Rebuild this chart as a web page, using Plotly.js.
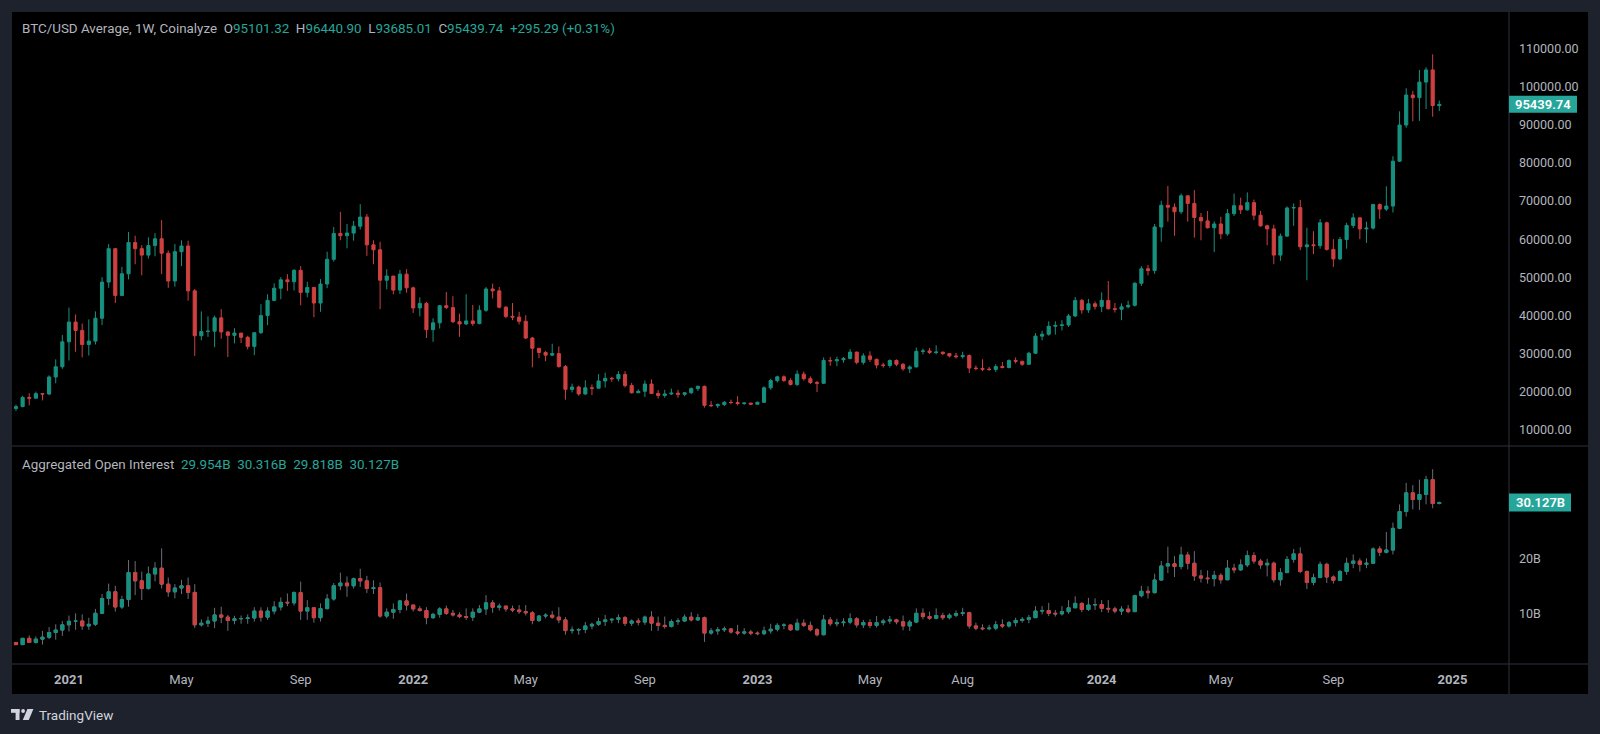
<!DOCTYPE html>
<html><head><meta charset="utf-8">
<script src="https://cdn.plot.ly/plotly-3.0.1.min.js"></script>
<style>html,body{margin:0;padding:0;background:#1e222d;overflow:hidden}#chart{width:1600px;height:734px}</style>
</head><body><div id="chart"></div>
<script>
// ---- data: weekly candles, first week starting Monday 2020-11-09 ----
const firstWeek = [2020, 10, 9];

const btcOpen = [
15480,15960,18380,18190,19360,19270,23760,26450,33000,38200,
36000,32300,33200,39200,48700,57500,45200,50900,59100,57500,
55800,58300,60100,56300,49000,56700,58200,46400,34600,35700,
35800,39300,35600,34700,35300,34200,31800,35400,39900,43900,
47100,49300,48800,51800,46000,47300,43200,48200,54700,61500,
60900,61600,63400,65800,58500,57200,49200,50300,46600,50800,
47200,41900,43100,36200,38000,42500,42000,38300,37700,38500,
37800,41300,46900,46400,42100,39700,39500,38400,34000,31300,
30200,29500,29900,26500,20500,21100,19300,20900,20800,22700,
23400,23300,24400,21500,19600,20000,21900,19400,18900,19300,
19500,19200,19600,20700,21300,16300,16200,16500,17100,17050,
16800,16900,16600,17100,20900,22800,23800,22800,21800,24500,
23300,22300,22100,28100,28000,28300,28600,30300,27600,29300,
28400,26900,26800,28100,27100,25900,26400,30500,30600,30200,
30300,29900,29300,29100,29400,26100,26000,25800,25750,26500,
26250,28100,27900,27100,30000,34500,35000,37100,37300,37450,
39800,43900,41400,43000,42300,43900,41700,41550,42200,42600,
48400,52200,51750,63200,68900,68400,67200,71400,69400,65700,
64800,63000,64000,61400,66700,68800,67700,69600,66300,63500,
62700,55800,60800,68200,68300,58000,58500,58300,64300,57300,
54800,59900,63600,65600,62700,62900,69100,67900,68700,80500,
90000,97900,97200,101300,104500,95101.32];
const btcHigh = [
16490,18800,19480,19900,19400,24200,28400,34800,42000,40200,
37800,38900,41000,50000,58700,57500,52700,61900,60900,58400,
60500,61600,65000,57000,58700,59700,59600,46900,41000,39700,
39900,41600,35800,36600,35300,34600,35500,42900,45500,48400,
50000,50800,52100,52900,48800,47400,49500,56700,63200,67200,
64000,64800,69200,66600,59700,59300,52100,50300,51900,52100,
47500,44700,43500,39200,42700,46100,45000,40400,45500,42700,
42600,47400,48300,47400,42400,43200,40900,40000,34300,31300,
30600,32500,31800,26900,22000,21500,22900,21800,24500,24900,
23800,25300,25300,22200,20500,22800,23100,20300,20400,20700,
20400,19800,21000,21500,21500,17400,16800,17400,17800,18700,
17100,16900,17300,21300,23300,24100,24200,23400,25500,25200,
23900,22700,28900,29000,29100,29000,31100,30400,30000,30500,
28600,27500,28400,28400,27400,26800,31500,31200,31400,32100,
30400,30000,30100,30400,29700,26800,28400,26400,27100,27700,
28400,28900,27900,30400,35300,35900,38400,38400,38700,40300,
44800,44300,44300,43600,46000,49000,43200,43100,43800,48700,
52900,53200,64000,70100,74000,69400,72000,71500,72900,66900,
67400,64700,65900,67900,72000,70900,72300,70400,67400,63800,
63800,61500,68600,69400,70300,63000,62100,65300,64600,60000,
60600,64300,66800,65700,64600,69300,69400,73900,81800,93600,
99700,99000,104500,105200,108600,96440.90];
const btcLow = [
14830,15800,16300,18100,17600,19000,22100,25900,28100,30400,
28900,29400,32300,37400,47200,43200,45000,49400,53400,50500,
54900,55500,50800,47200,47500,52900,43800,29300,33400,34300,
31600,33800,29000,32600,32700,31000,29500,35100,37400,43700,
44200,46400,46500,42600,44700,39500,40900,47100,54100,59700,
57600,59600,62500,55600,53400,41600,46800,45500,45600,45900,
40600,39700,34000,33000,36500,41600,37900,34300,37400,37200,
37600,40900,44400,41800,39200,38700,37600,33700,26300,28700,
27900,29300,26200,17800,19700,18800,19000,19000,20800,21000,
22500,22600,21000,19400,19600,18500,19300,18100,18300,19000,
18300,18700,19300,20100,15700,15900,15600,16100,16600,16300,
16400,16400,16600,17000,20400,22300,22500,21500,21400,22800,
21900,19800,21900,26700,26600,27500,28400,27100,27000,27700,
26000,26200,26200,26600,25400,24800,26300,29700,29800,29700,
29500,28900,28600,28600,24800,25500,25300,25400,25100,26000,
26000,27300,26700,26900,29800,33400,34600,34900,36000,36900,
39500,40400,40600,41500,40800,41500,40700,38700,41800,42300,
47700,50500,50900,59300,64600,60900,66600,64600,60400,59700,
62800,56600,60000,60900,66100,66600,67500,65000,63300,58400,
53400,54300,60600,63500,57100,49200,56100,57500,57000,52700,
54500,57500,62900,60000,59000,62500,65300,67400,67000,80300,
89300,91000,91100,94200,92200,93685.01];
const btcClose = [
15960,18380,18190,19360,19270,23760,26450,33000,38200,36000,
32300,33200,39200,48700,57500,45200,50900,59100,57500,55800,
58300,60100,56300,49000,56700,58200,46400,34600,35700,35800,
39300,35600,34700,35300,34200,31800,35400,39900,43900,47100,
49300,48800,51800,46000,47300,43200,48200,54700,61500,60900,
61600,63400,65800,58500,57200,49200,50300,46600,50800,47200,
41900,43100,36200,38000,42500,42000,38300,37700,38500,37800,
41300,46900,46400,42100,39700,39500,38400,34000,31300,30200,
29500,29900,26500,20500,21100,19300,20900,20800,22700,23400,
23300,24400,21500,19600,20000,21900,19400,18900,19300,19500,
19200,19600,20700,21300,16300,16200,16500,17100,17050,16800,
16900,16600,17100,20900,22800,23800,22800,21800,24500,23300,
22300,22100,28100,28000,28300,28600,30300,27600,29300,28400,
26900,26800,28100,27100,25900,26400,30500,30600,30200,30300,
29900,29300,29100,29400,26100,26000,25800,25750,26500,26250,
28100,27900,27100,30000,34500,35000,37100,37300,37450,39800,
43900,41400,43000,42300,43900,41700,41550,42200,42600,48400,
52200,51750,63200,68900,68400,67200,71400,69400,65700,64800,
63000,64000,61400,66700,68800,67700,69600,66300,63500,62700,
55800,60800,68200,68300,58000,58500,58300,64300,57300,54800,
59900,63600,65600,62700,62900,69100,67900,68700,80500,90000,
97900,97200,101300,104500,95144.45,95439.74];

// Aggregated open interest, billions USD
const oiOpen = [
4.70,4.30,5.45,4.70,5.30,5.65,6.50,6.95,7.90,8.55,
8.60,7.70,8.00,10.00,12.70,13.90,11.15,12.50,17.40,15.90,
14.50,17.15,18.20,15.30,13.90,14.60,15.00,13.80,7.90,8.20,
8.60,9.70,9.30,8.70,9.00,9.05,9.15,10.40,9.30,10.40,
11.15,12.00,11.90,13.75,10.40,11.00,9.20,10.85,12.60,15.00,
15.50,15.00,16.30,15.90,14.50,14.65,9.50,10.20,10.70,12.25,
11.50,10.80,10.50,9.20,9.80,10.80,10.00,9.70,9.40,9.30,
10.20,10.80,11.90,11.10,11.30,10.80,10.60,10.30,10.10,8.70,
9.50,9.65,9.30,8.80,6.85,6.95,7.05,7.70,8.00,8.50,
8.80,8.90,9.20,8.20,8.60,8.40,9.30,8.20,7.80,7.60,
8.50,8.60,9.30,8.80,9.20,6.40,6.80,7.00,7.15,6.60,
6.40,6.60,6.40,6.30,6.80,7.10,7.80,7.85,7.00,8.20,
7.80,7.00,6.10,8.80,8.10,8.30,8.40,9.00,7.90,8.30,
7.80,8.30,8.60,8.80,8.45,7.70,8.40,10.00,9.40,9.10,
9.60,9.20,9.65,9.95,10.10,7.70,7.30,7.20,7.30,7.90,
7.70,8.30,8.70,8.90,9.20,10.40,10.50,10.00,9.90,10.30,
11.00,11.80,10.70,11.50,11.60,10.90,10.80,10.40,10.75,10.30,
13.20,14.00,13.75,16.05,18.60,19.00,18.50,20.60,19.10,16.80,
16.40,16.30,16.90,16.10,18.20,17.90,18.80,20.50,19.50,18.80,
19.10,16.10,17.40,19.80,20.80,17.60,15.60,16.50,18.90,16.60,
16.00,17.60,19.10,19.50,18.90,19.10,21.70,21.10,21.50,25.45,
28.50,31.90,30.70,31.60,34.30,29.954];
const oiHigh = [
4.75,5.50,6.00,5.80,6.80,7.50,8.00,8.60,9.60,10.00,
9.80,9.20,10.80,13.50,15.40,15.00,13.20,19.70,19.50,17.60,
18.50,19.30,21.80,16.50,15.30,16.10,16.50,15.30,8.90,9.40,
11.00,11.20,9.70,9.55,9.60,9.80,11.10,11.10,11.10,12.20,
12.90,13.60,14.00,15.75,12.40,11.10,11.80,13.50,15.50,17.40,
16.70,16.50,18.10,16.80,16.00,15.60,10.90,11.80,12.40,13.60,
11.50,11.30,11.10,10.10,11.10,11.40,10.60,10.20,10.90,10.90,
11.50,13.30,12.40,11.80,11.40,11.40,11.50,11.50,10.40,9.70,
10.00,10.40,11.10,9.30,7.60,7.30,8.40,8.30,9.20,9.70,
9.10,9.80,9.50,8.90,9.10,9.60,10.40,9.40,9.40,8.90,
9.10,9.80,10.20,9.90,9.40,7.30,7.50,7.60,7.30,7.90,
7.30,7.00,6.70,7.60,8.10,8.20,8.20,8.00,9.00,8.90,
8.50,7.30,9.70,9.30,9.00,9.10,10.00,9.30,8.80,8.90,
9.50,9.00,9.50,9.00,9.60,8.80,10.90,10.90,10.30,10.90,
10.10,10.00,10.50,11.00,10.30,8.30,8.00,7.90,8.60,8.90,
8.60,9.20,9.30,9.70,11.30,11.30,11.90,10.60,11.30,12.40,
13.10,12.00,12.80,12.70,12.40,12.40,11.20,11.30,11.50,13.40,
15.00,14.90,17.20,19.50,22.10,20.40,22.10,21.20,21.30,17.90,
17.80,17.70,17.30,19.70,19.00,19.80,21.40,21.10,19.90,19.90,
19.40,18.20,20.40,21.70,22.00,17.80,17.20,19.40,19.20,16.90,
17.90,20.10,20.70,20.00,20.00,22.00,22.20,24.80,26.50,29.80,
33.70,33.30,34.30,35.00,36.20,30.316];
const oiLow = [
4.20,4.25,4.60,4.50,4.30,5.30,5.20,5.90,6.70,7.00,
7.00,7.00,7.70,9.90,11.50,10.30,10.80,11.20,13.30,12.40,
14.30,15.80,14.50,13.00,12.70,13.50,12.60,7.30,7.60,7.50,
7.30,8.20,6.80,8.00,8.10,8.10,8.50,8.50,8.80,9.80,
10.50,11.30,11.40,8.80,8.80,8.30,8.50,10.70,12.30,14.20,
13.00,14.50,14.80,13.70,13.50,9.20,9.10,9.00,10.00,10.50,
10.30,10.30,8.00,9.00,9.20,9.70,9.40,9.10,8.80,8.60,
10.00,9.70,10.10,10.50,10.30,10.20,9.90,9.60,8.00,8.40,
9.10,9.00,8.20,6.10,6.30,6.10,6.40,7.10,7.70,7.70,
8.20,8.20,7.70,7.70,7.80,7.90,6.80,6.80,7.20,7.40,
7.90,8.40,8.50,8.60,4.80,6.10,6.10,6.60,6.30,6.00,
6.10,6.00,6.00,6.00,6.30,6.70,7.10,6.80,6.90,7.50,
6.70,5.80,6.00,7.70,7.60,7.60,8.00,7.40,7.30,7.30,
7.40,7.80,8.10,8.00,6.90,6.80,8.20,8.90,8.80,8.90,
8.80,8.90,9.30,9.50,7.20,6.90,6.90,6.90,6.90,7.30,
7.40,7.60,8.30,8.20,9.20,9.80,9.50,9.40,9.60,9.90,
11.00,10.20,10.40,10.60,10.20,10.10,10.00,9.70,10.00,10.30,
12.90,12.70,13.60,15.90,17.30,16.60,18.00,18.00,15.90,15.60,
15.40,14.90,15.40,16.00,17.30,17.70,18.40,19.00,18.10,16.70,
15.60,15.00,17.30,19.20,17.30,14.40,15.10,16.40,15.50,15.40,
15.90,17.00,18.20,17.60,18.20,19.00,20.40,20.90,20.70,25.30,
27.60,28.90,28.80,29.80,29.10,29.818];
const oiClose = [
4.30,5.45,4.70,5.30,5.65,6.50,6.95,7.90,8.55,8.60,
7.70,8.00,10.00,12.70,13.90,11.15,12.50,17.40,15.90,14.50,
17.15,18.20,15.30,13.90,14.60,15.00,13.80,7.90,8.20,8.60,
9.70,9.30,8.70,9.00,9.05,9.15,10.40,9.30,10.40,11.15,
12.00,11.90,13.75,10.40,11.00,9.20,10.85,12.60,15.00,15.50,
15.00,16.30,15.90,14.50,14.65,9.50,10.20,10.70,12.25,11.50,
10.80,10.50,9.20,9.80,10.80,10.00,9.70,9.40,9.30,10.20,
10.80,11.90,11.10,11.30,10.80,10.60,10.30,10.10,8.70,9.50,
9.65,9.30,8.80,6.85,6.95,7.05,7.70,8.00,8.50,8.80,
8.90,9.20,8.20,8.60,8.40,9.30,8.20,7.80,7.60,8.50,
8.60,9.30,8.80,9.20,6.40,6.80,7.00,7.15,6.60,6.40,
6.60,6.40,6.30,6.80,7.10,7.80,7.85,7.00,8.20,7.80,
7.00,6.10,8.80,8.10,8.30,8.40,9.00,7.90,8.30,7.80,
8.30,8.60,8.80,8.45,7.70,8.40,10.00,9.40,9.10,9.60,
9.20,9.65,9.95,10.10,7.70,7.30,7.20,7.30,7.90,7.70,
8.30,8.70,8.90,9.20,10.40,10.50,10.00,9.90,10.30,11.00,
11.80,10.70,11.50,11.60,10.90,10.80,10.40,10.75,10.30,13.20,
14.00,13.75,16.05,18.60,19.00,18.50,20.60,19.10,16.80,16.40,
16.30,16.90,16.10,18.20,17.90,18.80,20.50,19.50,18.80,19.10,
16.10,17.40,19.80,20.80,17.60,15.60,16.50,18.90,16.60,16.00,
17.60,19.10,19.50,18.90,19.10,21.70,21.10,21.50,25.45,28.50,
31.90,30.70,31.60,34.30,29.954,30.127];

const tickDates = ['2021-01-04','2021-05-03','2021-09-06','2022-01-03','2022-05-02','2022-09-05',
  '2023-01-02','2023-05-01','2023-08-07','2024-01-01','2024-05-06','2024-09-02','2025-01-06'];
const tickText = ['<b>2021</b>','May','Sep','<b>2022</b>','May','Sep','<b>2023</b>','May','Aug',
  '<b>2024</b>','May','Sep','<b>2025</b>'];
const priceTicks = [10000,20000,30000,40000,50000,60000,70000,80000,90000,100000,110000];
const oiTicks = [10, 20];
const oiTickText = ['10B', '20B'];

const priceTitle = 'BTC/USD Average, 1W, Coinalyze';
const oiTitle = 'Aggregated Open Interest';

// ---- build ----
const weeks = btcClose.map((_, i) =>
  new Date(Date.UTC(firstWeek[0], firstWeek[1], firstWeek[2]) + i * 7 * 864e5).toISOString().slice(0, 10));

const UP = '#17917f', DOWN = '#cf4040', WICK = '#6b6e78';
const TEXT = '#b2b5be', TEAL = '#26a69a';
const FONT = 'Roboto, "Liberation Sans", Arial, sans-serif';

const W = 1600, H = 734, L = 12, R = 1509, T = 12, B = 664;
const px = x => (x - L) / (R - L);
const py = y => (B - y) / (B - T);
const split = py(446);

const priceTrace = {
  type: 'candlestick', x: weeks, open: btcOpen, high: btcHigh, low: btcLow, close: btcClose,
  xaxis: 'x', yaxis: 'y', hoverinfo: 'skip',
  increasing: {line: {color: UP, width: 1}, fillcolor: UP},
  decreasing: {line: {color: DOWN, width: 1}, fillcolor: DOWN}
};
const oiWickTrace = {
  type: 'candlestick', x: weeks, open: oiOpen, high: oiHigh, low: oiLow, close: oiClose,
  xaxis: 'x', yaxis: 'y2', hoverinfo: 'skip',
  increasing: {line: {color: WICK, width: 1}, fillcolor: WICK},
  decreasing: {line: {color: WICK, width: 1}, fillcolor: WICK}
};
const oiBodyTrace = {
  type: 'candlestick', x: weeks, open: oiOpen, close: oiClose,
  high: oiOpen.map((o, i) => Math.max(o, oiClose[i])),
  low: oiOpen.map((o, i) => Math.min(o, oiClose[i])),
  xaxis: 'x', yaxis: 'y2', hoverinfo: 'skip',
  increasing: {line: {color: UP, width: 1}, fillcolor: UP},
  decreasing: {line: {color: DOWN, width: 1}, fillcolor: DOWN}
};

const n = btcClose.length - 1;
const sp = (c, t) => `<span style="color:${c}">${t}</span>`;
const gap = '\u00a0\u00a0';
const chg = btcClose[n] - btcClose[n - 1];
const pct = chg / btcClose[n - 1] * 100;
const sign = v => (v >= 0 ? '+' : '');
const priceHeader = sp(TEXT, priceTitle) + gap +
  sp(TEXT, 'O') + sp(TEAL, btcOpen[n].toFixed(2)) + gap +
  sp(TEXT, 'H') + sp(TEAL, btcHigh[n].toFixed(2)) + gap +
  sp(TEXT, 'L') + sp(TEAL, btcLow[n].toFixed(2)) + gap +
  sp(TEXT, 'C') + sp(TEAL, btcClose[n].toFixed(2)) + gap +
  sp(TEAL, sign(chg) + chg.toFixed(2) + ' (' + sign(pct) + pct.toFixed(2) + '%)');
const oiHeader = sp(TEXT, oiTitle) + gap +
  sp(TEAL, oiOpen[n].toFixed(3) + 'B') + gap + sp(TEAL, oiHigh[n].toFixed(3) + 'B') + gap +
  sp(TEAL, oiLow[n].toFixed(3) + 'B') + gap + sp(TEAL, oiClose[n].toFixed(3) + 'B');

const LINE = '#2f333e';
const logo = '#d1d4dc';
const shapes = [
  {type: 'rect', xref: 'paper', yref: 'paper', x0: px(12), x1: px(1588), y0: py(694), y1: py(12),
   fillcolor: '#000', line: {width: 0}, layer: 'below'},
  {type: 'line', xref: 'paper', yref: 'paper', x0: px(12), x1: px(1588), y0: py(446), y1: py(446), line: {color: LINE, width: 1}},
  {type: 'line', xref: 'paper', yref: 'paper', x0: px(12), x1: px(1588), y0: py(664), y1: py(664), line: {color: LINE, width: 1}},
  {type: 'line', xref: 'paper', yref: 'paper', x0: px(1509), x1: px(1509), y0: py(694), y1: py(12), line: {color: LINE, width: 1}},
  // last value tags
  {type: 'rect', xref: 'paper', yref: 'y', ysizemode: 'pixel', yanchor: btcClose[n], y0: -8.5, y1: 8.5,
   x0: px(1509), x1: px(1577), fillcolor: TEAL, line: {width: 0}},
  {type: 'rect', xref: 'paper', yref: 'y2', ysizemode: 'pixel', yanchor: oiClose[n], y0: -9, y1: 9,
   x0: px(1509), x1: px(1571), fillcolor: TEAL, line: {width: 0}},
  // TradingView logo
  {type: 'rect', xref: 'paper', yref: 'paper', x0: px(11), x1: px(19.5), y0: py(712.8), y1: py(709), fillcolor: logo, line: {width: 0}},
  {type: 'rect', xref: 'paper', yref: 'paper', x0: px(15.6), x1: px(19.5), y0: py(720), y1: py(709), fillcolor: logo, line: {width: 0}},
  {type: 'circle', xref: 'paper', yref: 'paper', x0: px(21.2), x1: px(25.0), y0: py(712.9), y1: py(709.1), fillcolor: logo, line: {width: 0}},
  {type: 'path', xref: 'paper', yref: 'paper',
   path: `M ${px(27.4)} ${py(709)} L ${px(33.4)} ${py(709)} L ${px(28.8)} ${py(720)} L ${px(22.8)} ${py(720)} Z`,
   fillcolor: logo, line: {width: 0}}
];

const annotations = [
  {xref: 'paper', yref: 'paper', x: px(20), y: py(28.5), xanchor: 'left', yanchor: 'middle', showarrow: false,
   text: priceHeader, font: {family: FONT, size: 13.4, color: TEXT}},
  {xref: 'paper', yref: 'paper', x: px(20), y: py(464), xanchor: 'left', yanchor: 'middle', showarrow: false,
   text: oiHeader, font: {family: FONT, size: 13.4, color: TEXT}},
  {xref: 'paper', yref: 'y', x: px(1543), y: btcClose[n], xanchor: 'center', yanchor: 'middle', showarrow: false,
   text: btcClose[n].toFixed(2), font: {family: FONT, size: 13, color: '#ffffff', weight: 600}},
  {xref: 'paper', yref: 'y2', x: px(1540), y: oiClose[n], xanchor: 'center', yanchor: 'middle', showarrow: false,
   text: oiClose[n].toFixed(3) + 'B', font: {family: FONT, size: 13, color: '#ffffff', weight: 600}},
  {xref: 'paper', yref: 'paper', x: px(37), y: py(715), xanchor: 'left', yanchor: 'middle', showarrow: false,
   text: 'TradingView', font: {family: FONT, size: 13.5, color: logo}}
];

const axisFont = {family: FONT, size: 12.5, color: TEXT};
const layout = {
  width: W, height: H,
  margin: {l: L, r: W - R, t: T, b: H - B, pad: 0},
  paper_bgcolor: '#1e222d', plot_bgcolor: '#000000',
  showlegend: false, hovermode: false, dragmode: false,
  boxgap: 0.32,
  xaxis: {
    type: 'date', anchor: 'y2', domain: [0, 1],
    range: ['2020-11-04 18:30', '2025-03-06 17:00'],
    tickmode: 'array', tickvals: tickDates, ticktext: tickText,
    showgrid: false, zeroline: false, showline: false, ticks: '',
    tickfont: {family: FONT, size: 13, color: TEXT}, ticklabelstandoff: 6,
    rangeslider: {visible: false}, fixedrange: true
  },
  yaxis: {
    domain: [split, 1], anchor: 'x', side: 'right', range: [5609, 119729],
    tickmode: 'array', tickvals: priceTicks, tickformat: '.2f',
    showgrid: false, zeroline: false, showline: false, ticks: '',
    tickfont: axisFont, ticklabelstandoff: 9, fixedrange: true
  },
  yaxis2: {
    domain: [0, split], anchor: 'x', side: 'right', range: [0.78, 40.42],
    tickmode: 'array', tickvals: oiTicks, ticktext: oiTickText,
    showgrid: false, zeroline: false, showline: false, ticks: '',
    tickfont: axisFont, ticklabelstandoff: 9, fixedrange: true
  },
  shapes: shapes,
  annotations: annotations
};

Plotly.newPlot('chart', [priceTrace, oiWickTrace, oiBodyTrace], layout, {staticPlot: true, displayModeBar: false});
</script></body></html>
